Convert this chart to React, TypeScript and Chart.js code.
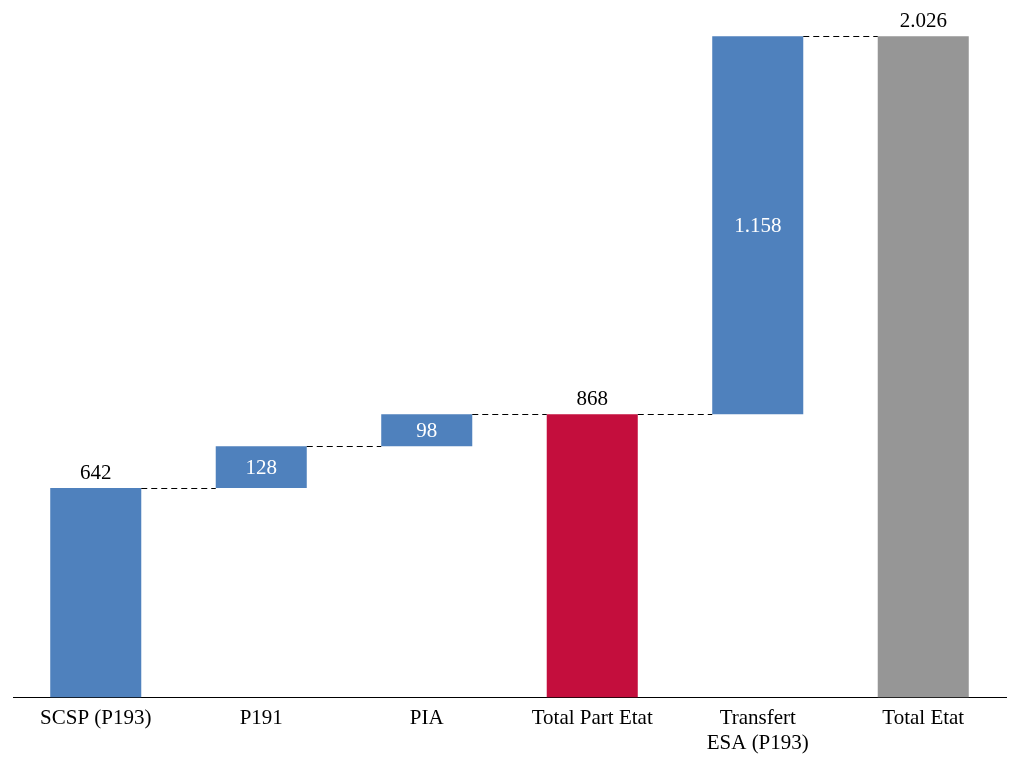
import React, { useEffect, useRef } from "react";
import { Chart, registerables } from "chart.js";

Chart.register(...registerables);

const categories: (string | string[])[] = [
  "SCSP (P193)",
  "P191",
  "PIA",
  "Total Part Etat",
  ["Transfert", "ESA (P193)"],
  "Total Etat",
];
const values: number[] = [642, 128, 98, 868, 1158, 2026];
const kinds: string[] = ["total", "delta", "delta", "total", "delta", "total"];
const valueLabels: string[] = ["642", "128", "98", "868", "1.158", "2.026"];
const barColors: string[] = ["#4F81BD", "#4F81BD", "#4F81BD", "#C40E3D", "#4F81BD", "#969696"];

const FONT = "'Liberation Serif', 'Times New Roman', serif";

export default function App() {
  const ref = useRef<HTMLCanvasElement>(null);
  useEffect(() => {
    const ctx = ref.current!;
    let running = 0;
    const ranges: [number, number][] = values.map((v, i) => {
      if (kinds[i] === "total") {
        running = v;
        return [0, v];
      }
      const r: [number, number] = [running, running + v];
      running += v;
      return r;
    });

    const overlay = {
      id: "overlay",
      afterDatasetsDraw(chart: any) {
        const c = chart.ctx;
        const meta = chart.getDatasetMeta(0);
        const ys = chart.scales.y;
        c.save();
        // connectors
        c.strokeStyle = "#000";
        c.lineWidth = 1;
        c.setLineDash([6, 4]);
        for (let i = 0; i < ranges.length - 1; i++) {
          const a = meta.data[i];
          const b = meta.data[i + 1];
          const level = ranges[i][1];
          const y = Math.round(ys.getPixelForValue(level)) + 0.5;
          c.beginPath();
          c.moveTo(a.x + a.width / 2, y);
          c.lineTo(b.x - b.width / 2, y);
          c.stroke();
        }
        c.setLineDash([]);
        // labels
        c.textAlign = "center";
        c.font = `21px ${FONT}`;
        ranges.forEach((r, i) => {
          const el = meta.data[i];
          const top = ys.getPixelForValue(r[1]);
          const bottom = ys.getPixelForValue(r[0]);
          if (kinds[i] === "total") {
            c.fillStyle = "#000";
            c.textBaseline = "alphabetic";
            c.fillText(valueLabels[i], el.x, top - 9);
          } else {
            c.fillStyle = "#fff";
            c.textBaseline = "middle";
            c.fillText(valueLabels[i], el.x, (top + bottom) / 2 + 1);
          }
        });
        c.restore();
      },
    };

    const chart = new Chart(ctx, {
      type: "bar",
      data: {
        labels: categories,
        datasets: [
          {
            data: ranges as any,
            backgroundColor: barColors,
            borderWidth: 0,
            categoryPercentage: 1,
            barPercentage: 0.55,
          },
        ],
      },
      options: {
        animation: false,
        responsive: false,
        maintainAspectRatio: false,
        layout: { padding: { left: 13, right: 14, top: 12, bottom: 11 } },
        plugins: { legend: { display: false }, tooltip: { enabled: false } },
        scales: {
          x: {
            grid: { display: false },
            border: { display: true, color: "#000", width: 1 },
            ticks: {
              color: "#000",
              font: { family: FONT, size: 21 },
              padding: 0,
              maxRotation: 0,
              autoSkip: false,
            },
          },
          y: {
            display: false,
            min: 0,
            max: 2100,
          },
        },
      },
      plugins: [overlay],
    });
    return () => chart.destroy();
  }, []);
  return (
    <div style={{ position: "fixed", left: 0, top: 0, width: 1020, height: 767, background: "#fff" }}>
      <canvas ref={ref} width={1020} height={767} style={{ display: "block" }} />
    </div>
  );
}
